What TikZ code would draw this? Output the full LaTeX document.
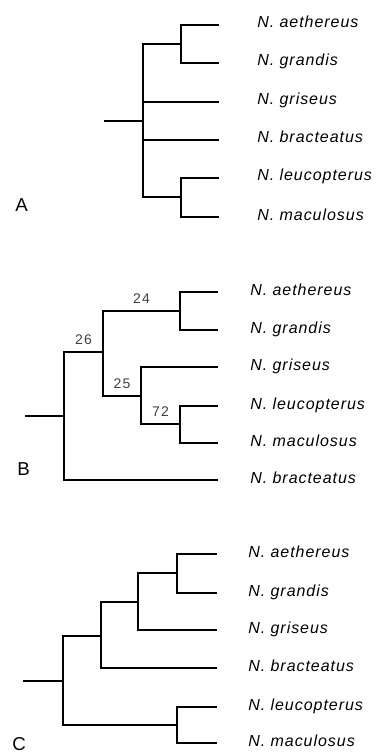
\documentclass[tikz,border=0pt]{standalone}
\usepackage{fontspec}
\setmainfont{Liberation Sans}
\usetikzlibrary{positioning}

\begin{document}
\begin{tikzpicture}[x=0.75pt, y=-0.75pt,
  every node/.style = {inner sep=0pt},
  branch/.style  = {line width=1.9pt},
  taxon/.style   = {anchor=base west, yshift=-2.25pt,
                    font=\itshape\fontsize{12}{14}\selectfont\addfontfeature{LetterSpace=6}},
  panel/.style   = {anchor=base west, font=\fontsize{14}{16}\selectfont},
  support/.style = {font=\fontsize{10.5}{12}\selectfont\addfontfeature{LetterSpace=8},
                    text=black!75, pos=0.75, above=4.5pt},
]
  \useasboundingbox (0,0) rectangle (376,752);

  % A: consensus
  \foreach \i/\y/\sp in {1/25/aethereus, 2/63/grandis, 3/102/griseus,
                         4/140/bracteatus, 5/178/leucopterus, 6/217/maculosus}{
    \coordinate (aL\i) at (219,\y);
    \node[right=28.5pt of aL\i, taxon] (aT\i) {N. \sp};
  }
  \coordinate (aR) at (104,121);
  \coordinate (a0) at (143,121);
  \coordinate (a1) at (181,44);
  \coordinate (a2) at (181,197);
  \node[panel] (labA) at (15,211) {A};

  \draw[branch] (aR) -- (a0);
  \draw[branch] (a0) |- (a1);
  \draw[branch] (a0) |- (aL3);
  \draw[branch] (a0) |- (aL4);
  \draw[branch] (a0) |- (a2);
  \draw[branch] (a1) |- (aL1);
  \draw[branch] (a1) |- (aL2);
  \draw[branch] (a2) |- (aL5);
  \draw[branch] (a2) |- (aL6);

  % B: with support values
  \foreach \i/\y/\sp in {1/292/aethereus, 2/330/grandis, 3/367/griseus,
                         4/406/leucopterus, 5/443/maculosus, 6/480/bracteatus}{
    \coordinate (bL\i) at (218,\y);
    \node[right=24pt of bL\i, taxon] (bT\i) {N. \sp};
  }
  \coordinate (bR)  at (25,416);
  \coordinate (b0)  at (64,416);
  \coordinate (b26) at (103,352);
  \coordinate (b24) at (180,311);
  \coordinate (b25) at (141,396);
  \coordinate (b72) at (180,424);
  \node[panel] (labB) at (17,475) {B};

  \draw[branch] (bR) -- (b0);
  \draw[branch] (b0) |- node[support] {26} (b26);
  \draw[branch] (b0) |- (bL6);
  \draw[branch] (b26) |- node[support] {24} (b24);
  \draw[branch] (b26) |- node[support] {25} (b25);
  \draw[branch] (b24) |- (bL1);
  \draw[branch] (b24) |- (bL2);
  \draw[branch] (b25) |- (bL3);
  \draw[branch] (b25) |- node[support] {72} (b72);
  \draw[branch] (b72) |- (bL4);
  \draw[branch] (b72) |- (bL5);

  % C
  \foreach \i/\y/\sp in {1/554/aethereus, 2/593/grandis, 3/630/griseus,
                         4/668/bracteatus, 5/707/leucopterus, 6/743/maculosus}{
    \coordinate (cL\i) at (217,\y);
    \node[right=23.25pt of cL\i, taxon] (cT\i) {N. \sp};
  }
  \coordinate (cR) at (23,681);
  \coordinate (c0) at (63,681);
  \coordinate (c1) at (177,573);
  \coordinate (c2) at (138,602);
  \coordinate (c3) at (101,636);
  \coordinate (c4) at (177,725);
  \node[panel] (labC) at (12,750) {C};

  \draw[branch] (cR) -- (c0);
  \draw[branch] (c0) |- (c3);
  \draw[branch] (c0) |- (c4);
  \draw[branch] (c3) |- (c2);
  \draw[branch] (c3) |- (cL4);
  \draw[branch] (c2) |- (c1);
  \draw[branch] (c2) |- (cL3);
  \draw[branch] (c1) |- (cL1);
  \draw[branch] (c1) |- (cL2);
  \draw[branch] (c4) |- (cL5);
  \draw[branch] (c4) |- (cL6);
\end{tikzpicture}
\end{document}
